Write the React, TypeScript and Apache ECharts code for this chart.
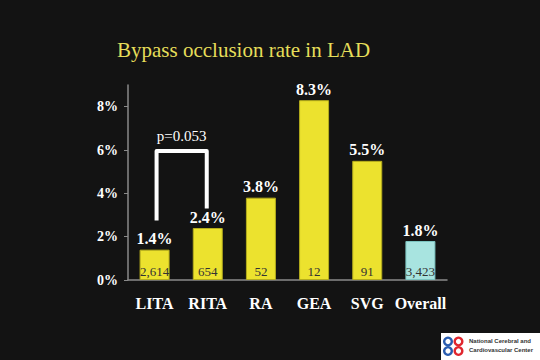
import React, { useEffect, useRef } from "react";
import * as echarts from "echarts";

const categories = ["LITA", "RITA", "RA", "GEA", "SVG", "Overall"];
const rates = [1.4, 2.4, 3.8, 8.3, 5.5, 1.8];
const counts = ["2,614", "654", "52", "12", "91", "3,423"];
const barColors = ["#ECE22E", "#ECE22E", "#ECE22E", "#ECE22E", "#ECE22E", "#A8E4E0"];
const barBorders = ["#B5AD1C", "#B5AD1C", "#B5AD1C", "#B5AD1C", "#B5AD1C", "#7CC4C0"];
const titleText = "Bypass occlusion rate in LAD";
const pText = "p=0.053";
// bracket between LITA (index 0) and RITA (index 1), in percent units
const bracketLeftEnd = 2.75;
const bracketTop = 5.95;
const bracketRightEnd = 3.3;
const logoLines = ["National Cerebral and", "Cardiovascular Center"];

export default function App() {
  const ref = useRef<HTMLDivElement>(null);
  useEffect(() => {
    document.body.style.margin = "0";
    const chart = echarts.init(ref.current!, null, { renderer: "svg" });
    const serif = "Liberation Serif";
    chart.setOption({
      animation: false,
      backgroundColor: "#131313",
      title: {
        text: titleText,
        left: 112,
        top: 34,
        textStyle: { color: "#E6DE5A", fontFamily: serif, fontSize: 21, fontWeight: "normal" },
      },
      grid: { left: 128, right: 93, top: 85, bottom: 80 },
      xAxis: {
        type: "category",
        data: categories,
        axisLine: { lineStyle: { color: "#8a8a8a", width: 1.5 } },
        axisTick: { show: false },
        axisLabel: { interval: 0, color: "#ffffff", fontFamily: serif, fontWeight: "bold", fontSize: 16, margin: 15 },
      },
      yAxis: {
        type: "value",
        min: 0,
        max: 9,
        interval: 2,
        splitLine: { show: false },
        axisLine: { show: true, lineStyle: { color: "#8a8a8a", width: 1.5 } },
        axisTick: { show: true, length: 4, lineStyle: { color: "#8a8a8a" } },
        axisLabel: {
          color: "#ffffff",
          fontFamily: serif,
          fontWeight: "bold",
          fontSize: 14,
          margin: 10,
          showMaxLabel: false,
          formatter: (v: number) => (v === 9 ? "" : v + "%"),
        },
      },
      series: [
        {
          type: "bar",
          barWidth: 30,
          data: rates.map((v, i) => ({
            value: v,
            itemStyle: { color: barColors[i], borderColor: barBorders[i], borderWidth: 1 },
          })),
          label: {
            show: true,
            position: "top",
            distance: 3,
            formatter: (p: any) => p.value.toFixed(1) + "%",
            color: "#ffffff",
            fontFamily: serif,
            fontWeight: "bold",
            fontSize: 16,
          },
        },
        {
          type: "bar",
          barWidth: 30,
          barGap: "-100%",
          silent: true,
          data: rates,
          itemStyle: { color: "rgba(0,0,0,0)" },
          label: {
            show: true,
            position: "insideBottom",
            distance: 2,
            formatter: (p: any) => counts[p.dataIndex],
            color: "#333333",
            fontFamily: serif,
            fontSize: 13,
          },
        },
      ],
    });
    const pL = chart.convertToPixel({ gridIndex: 0 }, [0, bracketLeftEnd]) as number[];
    const pT0 = chart.convertToPixel({ gridIndex: 0 }, [0, bracketTop]) as number[];
    const pT1 = chart.convertToPixel({ gridIndex: 0 }, [1, bracketTop]) as number[];
    const pR = chart.convertToPixel({ gridIndex: 0 }, [1, bracketRightEnd]) as number[];
    const x0 = pL[0] + 2;
    const x1 = pR[0] - 1;
    const ring = (cx: number, cy: number, color: string) => ({
      type: "ring",
      shape: { cx, cy, r: 5, r0: 2.6 },
      style: { fill: color },
    });
    chart.setOption({
      graphic: [
        {
          type: "polyline",
          shape: { points: [[x0, pL[1]], [x0, pT0[1]], [x1, pT1[1]], [x1, pR[1]]] },
          style: { stroke: "#ffffff", lineWidth: 4, fill: null, lineJoin: "round" },
        },
        {
          type: "text",
          x: (x0 + x1) / 2,
          y: pT0[1] - 15,
          style: {
            text: pText,
            fill: "#ffffff",
            font: `15px "${serif}"`,
            textAlign: "center",
            textVerticalAlign: "middle",
          },
        },
        {
          type: "rect",
          shape: { x: 441, y: 333, width: 99, height: 27 },
          style: { fill: "#ffffff" },
        },
        ring(448, 341.5, "#2A5DB0"),
        ring(448, 351, "#2A5DB0"),
        ring(458.5, 341.5, "#E0262E"),
        ring(458.5, 351, "#E0262E"),
        {
          type: "text",
          x: 469,
          y: 341,
          style: { text: logoLines[0], fill: "#333333", font: 'bold 6px "Liberation Sans"', textVerticalAlign: "middle" },
        },
        {
          type: "text",
          x: 469,
          y: 350,
          style: { text: logoLines[1], fill: "#333333", font: 'bold 6px "Liberation Sans"', textVerticalAlign: "middle" },
        },
      ],
    });
    return () => chart.dispose();
  }, []);
  return <div ref={ref} style={{ position: "absolute", left: 0, top: 0, width: 540, height: 360 }} />;
}
